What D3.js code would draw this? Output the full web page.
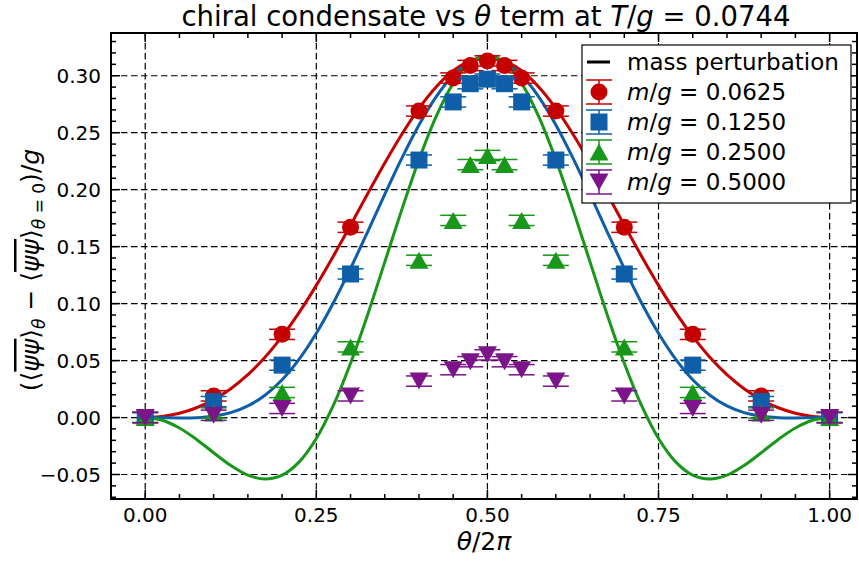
<!DOCTYPE html>
<html lang="en">
<head>
<meta charset="UTF-8">
<title>chiral condensate vs theta</title>
<script src="https://d3js.org/d3.v7.min.js"></script>
<style>
  body { margin: 0; background: #fff; }
  svg { font-family: "DejaVu Sans", sans-serif; }
  .it { font-style: italic; }
</style>
</head>
<body>
<script>
// lattice points (theta / 2pi)
var theta = [0, 0.1, 0.2, 0.3, 0.4, 0.45, 0.475, 0.5, 0.525, 0.55, 0.6, 0.7, 0.8, 0.9, 1];
var m0625 = [0, 0.019, 0.073, 0.167, 0.269, 0.298, 0.309, 0.313, 0.309, 0.298, 0.269, 0.167, 0.073, 0.019, 0];
var m1250 = [0, 0.014, 0.046, 0.126, 0.226, 0.277, 0.293, 0.297, 0.293, 0.277, 0.226, 0.126, 0.046, 0.014, 0];
var m2500 = [0, 0.004, 0.022, 0.062, 0.138, 0.173, 0.222, 0.230, 0.222, 0.173, 0.138, 0.062, 0.022, 0.004, 0];
var m5000 = [0, 0.002, 0.008, 0.019, 0.032, 0.042, 0.049, 0.055, 0.049, 0.042, 0.032, 0.019, 0.008, 0.002, 0];
var errs  = [0.0045, 0.0045, 0.0045, 0.0045, 0.0045, 0.0045, 0.0045, 0.0045, 0.0045, 0.0045, 0.0045, 0.0045, 0.0045, 0.0045, 0.0045];

// mass perturbation curves
var curveTheta = [0, 0.025, 0.05, 0.075, 0.1, 0.125, 0.15, 0.175, 0.2, 0.225, 0.25, 0.275, 0.3, 0.325, 0.35, 0.375, 0.4, 0.425, 0.45, 0.475, 0.5,
  0.525, 0.55, 0.575, 0.6, 0.625, 0.65, 0.675, 0.7, 0.725, 0.75, 0.775, 0.8, 0.825, 0.85, 0.875, 0.9, 0.925, 0.95, 0.975, 1];
var pert0625 = [0, 0.0009, 0.0037, 0.0086, 0.0157, 0.0253, 0.0376, 0.0529, 0.0712, 0.0923, 0.116, 0.1418, 0.1688, 0.1964, 0.2234, 0.2487, 0.2713, 0.2901, 0.3043, 0.3130, 0.316,
  0.3130, 0.3043, 0.2901, 0.2713, 0.2487, 0.2234, 0.1964, 0.1688, 0.1418, 0.116, 0.0923, 0.0712, 0.0529, 0.0376, 0.0253, 0.0157, 0.0086, 0.0037, 0.0009, 0];
var pert1250 = [0, -0.0001, -0.0003, -0.0001, 0.0012, 0.0043, 0.0102, 0.0196, 0.0332, 0.0513, 0.074, 0.1008, 0.1309, 0.1630, 0.1959, 0.2277, 0.2568, 0.2815, 0.3003, 0.3120, 0.316,
  0.3120, 0.3003, 0.2815, 0.2568, 0.2277, 0.1959, 0.1630, 0.1309, 0.1008, 0.074, 0.0513, 0.0332, 0.0196, 0.0102, 0.0043, 0.0012, -0.0001, -0.0003, -0.0001, 0];
var pert2500 = [0, -0.0024, -0.0092, -0.0192, -0.0309, -0.0421, -0.0506, -0.0540, -0.0506, -0.0389, -0.0184, 0.0108, 0.0477, 0.0903, 0.1364, 0.1827, 0.2263, 0.2641, 0.2933, 0.3117, 0.318,
  0.3117, 0.2933, 0.2641, 0.2263, 0.1827, 0.1364, 0.0903, 0.0477, 0.0108, -0.0184, -0.0389, -0.0506, -0.0540, -0.0506, -0.0421, -0.0309, -0.0192, -0.0092, -0.0024, 0];

var massLabels = ["0.0625", "0.1250", "0.2500", "0.5000"];
var xTicks = [0, 0.25, 0.5, 0.75, 1];
var yTicks = [-0.05, 0, 0.05, 0.10, 0.15, 0.20, 0.25, 0.30];

var series = [
  { label: massLabels[0], vals: m0625, color: "#c40000", shape: "circle" },
  { label: massLabels[1], vals: m1250, color: "#0f5ea8", shape: "square" },
  { label: massLabels[2], vals: m2500, color: "#18971a", shape: "up" },
  { label: massLabels[3], vals: m5000, color: "#7a1488", shape: "down" }
];
var curves = [
  { vals: pert0625, color: series[0].color },
  { vals: pert1250, color: series[1].color },
  { vals: pert2500, color: series[2].color }
];

var W = 859, H = 561;
var L = 111, R = 857, T = 33, B = 499;

var svg = d3.select("body").append("svg").attr("width", W).attr("height", H);

var x = d3.scaleLinear().domain([-0.05, 1.04]).range([L, R]);
var y = d3.scaleLinear().domain([-0.0715, 0.3375]).range([B, T]);

// grid
var grid = svg.append("g");
grid.selectAll(".gx").data(xTicks).enter().append("line")
  .attr("x1", d => x(d)).attr("x2", d => x(d)).attr("y1", T).attr("y2", B)
  .attr("stroke", "#000").attr("stroke-width", 1.2).attr("stroke-dasharray", "6.5,3.5");
grid.selectAll(".gy").data(yTicks).enter().append("line")
  .attr("x1", L).attr("x2", R).attr("y1", d => y(d)).attr("y2", d => y(d))
  .attr("stroke", "#000").attr("stroke-width", 1.2).attr("stroke-dasharray", "6.5,3.5");

svg.append("clipPath").attr("id", "clip").append("rect")
  .attr("x", L).attr("y", T).attr("width", R - L).attr("height", B - T);
var plot = svg.append("g").attr("clip-path", "url(#clip)");

// curves
var line = d3.line().x((d, i) => x(curveTheta[i])).y(d => y(d)).curve(d3.curveCatmullRom.alpha(0.5));
curves.forEach(function (c) {
  plot.append("path").attr("d", line(c.vals)).attr("fill", "none")
    .attr("stroke", c.color).attr("stroke-width", 3);
});

var ms = 17;
function marker(g, shape, color, size) {
  var h = size / 2;
  if (shape === "circle") {
    g.append("circle").attr("r", h).attr("fill", color);
  } else if (shape === "square") {
    g.append("rect").attr("x", -h).attr("y", -h).attr("width", size).attr("height", size).attr("fill", color);
  } else if (shape === "up") {
    g.append("path").attr("d", "M0," + (-h) + "L" + (h + 1) + "," + h + "L" + (-h - 1) + "," + h + "Z").attr("fill", color);
  } else {
    g.append("path").attr("d", "M0," + h + "L" + (h + 1) + "," + (-h) + "L" + (-h - 1) + "," + (-h) + "Z").attr("fill", color);
  }
}

var cap = 13;
series.forEach(function (s) {
  var g = plot.append("g");
  var pts = g.selectAll("g").data(s.vals).enter().append("g");
  pts.each(function (d, i) {
    var p = d3.select(this);
    var cx = x(theta[i]), y1 = y(d + errs[i]), y2 = y(d - errs[i]);
    p.append("line").attr("x1", cx).attr("x2", cx).attr("y1", y1).attr("y2", y2)
      .attr("stroke", s.color).attr("stroke-width", 1.5);
    [y1, y2].forEach(function (yy) {
      p.append("line").attr("x1", cx - cap).attr("x2", cx + cap).attr("y1", yy).attr("y2", yy)
        .attr("stroke", s.color).attr("stroke-width", 1.5);
    });
    var m = p.append("g").attr("transform", "translate(" + cx + "," + y(d) + ")");
    marker(m, s.shape, s.color, ms);
  });
});

// axes with inward ticks
function ticksAround() {
  var ax = svg.append("g");
  var xMinor = d3.range(-0.05, 1.05, 0.05).map(v => +v.toFixed(2));
  var yMinor = d3.range(-0.07, 0.335, 0.01).map(v => +v.toFixed(2));
  xMinor.forEach(function (v) {
    var major = xTicks.indexOf(v) >= 0;
    var len = major ? 9 : 5;
    if (x(v) < L || x(v) > R) return;
    ax.append("line").attr("x1", x(v)).attr("x2", x(v)).attr("y1", B).attr("y2", B - len)
      .attr("stroke", "#000").attr("stroke-width", 1.5);
    ax.append("line").attr("x1", x(v)).attr("x2", x(v)).attr("y1", T).attr("y2", T + len)
      .attr("stroke", "#000").attr("stroke-width", 1.5);
  });
  yMinor.forEach(function (v) {
    var major = yTicks.some(t => Math.abs(t - v) < 1e-6);
    var len = major ? 9 : 5;
    ax.append("line").attr("x1", L).attr("x2", L + len).attr("y1", y(v)).attr("y2", y(v))
      .attr("stroke", "#000").attr("stroke-width", 1.5);
    ax.append("line").attr("x1", R).attr("x2", R - len).attr("y1", y(v)).attr("y2", y(v))
      .attr("stroke", "#000").attr("stroke-width", 1.5);
  });
  ax.append("rect").attr("x", L).attr("y", T).attr("width", R - L).attr("height", B - T)
    .attr("fill", "none").attr("stroke", "#000").attr("stroke-width", 2);

  ax.selectAll(".xl").data(xTicks).enter().append("text")
    .attr("x", d => x(d)).attr("y", 522).attr("text-anchor", "middle")
    .attr("font-size", 20).text(d => d.toFixed(2));
  ax.selectAll(".yl").data(yTicks).enter().append("text")
    .attr("x", 101).attr("y", d => y(d) + 7).attr("text-anchor", "end")
    .attr("font-size", 20).text(d => d < 0 ? "\u2212" + Math.abs(d).toFixed(2) : d.toFixed(2));
}
ticksAround();

// title
var title = svg.append("text").attr("x", (L + R) / 2 + 2).attr("y", 26).attr("text-anchor", "middle").attr("font-size", 27.5);
title.append("tspan").text("chiral condensate vs ");
title.append("tspan").attr("class", "it").text("\u03b8");
title.append("tspan").text(" term at ");
title.append("tspan").attr("class", "it").text("T");
title.append("tspan").text("/");
title.append("tspan").attr("class", "it").text("g");
title.append("tspan").text(" = 0.0744");

// x label
var xl = svg.append("text").attr("x", (L + R) / 2).attr("y", 550).attr("text-anchor", "middle").attr("font-size", 25);
xl.append("tspan").attr("class", "it").text("\u03b8");
xl.append("tspan").text("/2");
xl.append("tspan").attr("class", "it").text("\u03c0");

// y label
var yl = svg.append("text").attr("transform", "translate(39,270) rotate(-90)")
  .attr("text-anchor", "middle").attr("font-size", 25);
yl.append("tspan").text("(\u27e8");
yl.append("tspan").attr("class", "it").style("text-decoration", "overline").text("\u03c8\u03c8");
yl.append("tspan").text("\u27e9");
yl.append("tspan").attr("class", "it").attr("font-size", 17).attr("dy", 6).text("\u03b8");
yl.append("tspan").attr("dy", -6).text(" \u2212 \u27e8");
yl.append("tspan").attr("class", "it").style("text-decoration", "overline").text("\u03c8\u03c8");
yl.append("tspan").text("\u27e9");
yl.append("tspan").attr("class", "it").attr("font-size", 17).attr("dy", 6).text("\u03b8");
yl.append("tspan").attr("font-size", 17).text(" = 0");
yl.append("tspan").attr("dy", -6).text(")/");
yl.append("tspan").attr("class", "it").text("g");

// legend
var lg = svg.append("g");
lg.append("rect").attr("x", 582).attr("y", 45).attr("width", 269).attr("height", 158)
  .attr("fill", "#fff").attr("stroke", "#000").attr("stroke-width", 1.2);
var rowY = [62, 92, 122, 152, 182];
lg.append("line").attr("x1", 587).attr("x2", 610).attr("y1", rowY[0]).attr("y2", rowY[0])
  .attr("stroke", "#000").attr("stroke-width", 3);
lg.append("text").attr("x", 627).attr("y", rowY[0] + 8).attr("font-size", 23).text("mass perturbation");
series.forEach(function (s, i) {
  var cy = rowY[i + 1], cx = 599;
  lg.append("line").attr("x1", cx).attr("x2", cx).attr("y1", cy - 12).attr("y2", cy + 12)
    .attr("stroke", s.color).attr("stroke-width", 1.5);
  [cy - 12, cy + 12].forEach(function (yy) {
    lg.append("line").attr("x1", cx - 13).attr("x2", cx + 13).attr("y1", yy).attr("y2", yy)
      .attr("stroke", s.color).attr("stroke-width", 1.5);
  });
  var m = lg.append("g").attr("transform", "translate(" + cx + "," + cy + ")");
  marker(m, s.shape, s.color, ms);
  var t = lg.append("text").attr("x", 627).attr("y", cy + 8).attr("font-size", 23);
  t.append("tspan").attr("class", "it").text("m");
  t.append("tspan").text("/");
  t.append("tspan").attr("class", "it").text("g");
  t.append("tspan").text(" = " + s.label);
});
</script>
</body>
</html>
